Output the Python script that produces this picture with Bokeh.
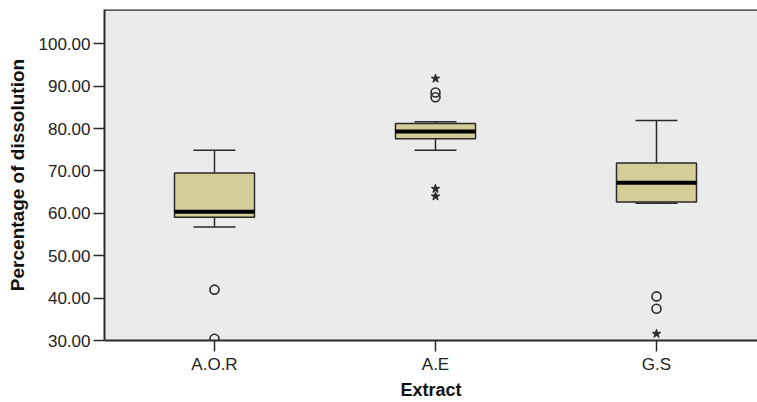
from bokeh.plotting import figure
from bokeh.models import Range1d, FixedTicker, PrintfTickFormatter, Span
from bokeh.embed import file_html
from bokeh.resources import INLINE

categories = ["A.O.R", "A.E", "G.S"]
cat_pos = [1, 2, 3]
q1 = [59.1, 77.6, 62.7]
median = [60.4, 79.3, 67.2]
q3 = [69.5, 81.2, 71.9]
whisker_low = [56.8, 74.9, 62.4]
whisker_high = [74.9, 81.6, 81.9]

circle_cat = [1, 1, 2, 2, 3, 3]
circle_val = [42.0, 30.4, 88.5, 87.4, 40.4, 37.5]
star_cat = [2, 2, 2, 3]
star_val = [91.8, 65.8, 64.0, 31.6]

yticks = [30, 40, 50, 60, 70, 80, 90, 100]

FONT = "Liberation Sans"
LINE = "#2a2a2a"
YTOP = 108.1

p = figure(width=757, height=402, output_backend="svg", toolbar_location=None,
           x_range=Range1d(0.5023, 3.457), y_range=Range1d(30, YTOP),
           min_border_left=104, min_border_right=0, min_border_top=9, min_border_bottom=62)
p.background_fill_color = "#EBEBEB"
p.border_fill_color = "white"
p.outline_line_color = None
p.xgrid.visible = False
p.ygrid.visible = False

bw = 0.362
cw = 0.19
xs = cat_pos

# whiskers
p.segment(x0=xs, y0=q3, x1=xs, y1=whisker_high, line_color=LINE, line_width=1.5)
p.segment(x0=xs, y0=q1, x1=xs, y1=whisker_low, line_color=LINE, line_width=1.5)
p.segment(x0=[x - cw / 2 for x in xs], y0=whisker_high, x1=[x + cw / 2 for x in xs], y1=whisker_high,
          line_color=LINE, line_width=1.5)
p.segment(x0=[x - cw / 2 for x in xs], y0=whisker_low, x1=[x + cw / 2 for x in xs], y1=whisker_low,
          line_color=LINE, line_width=1.5)
# boxes
p.vbar(x=xs, width=bw, top=q3, bottom=q1, fill_color="#D3CE97", line_color=LINE, line_width=1.5)
# medians
p.segment(x0=[x - bw / 2 for x in xs], y0=median, x1=[x + bw / 2 for x in xs], y1=median,
          line_color="black", line_width=4)
# outliers
p.scatter(x=circle_cat, y=circle_val, marker="circle", size=9, fill_color=None,
          line_color=LINE, line_width=1.6)
p.scatter(x=star_cat, y=star_val, marker="star", size=9, fill_color=LINE,
          line_color=LINE, line_width=1)

p.add_layout(Span(location=YTOP, dimension="width", line_color=LINE, line_width=2.5))

# y axis
ya = p.yaxis[0]
ya.ticker = FixedTicker(ticks=yticks)
ya.formatter = PrintfTickFormatter(format="%.2f")
ya.axis_label = "Percentage of dissolution"
ya.axis_label_text_font = FONT
ya.axis_label_text_font_style = "bold"
ya.axis_label_text_font_size = "19px"
ya.axis_label_text_color = "#111111"
ya.axis_label_standoff = 8
ya.major_label_text_font = FONT
ya.major_label_text_font_size = "17px"
ya.major_label_text_color = "#222222"
ya.major_label_standoff = 3
ya.major_tick_out = 11
ya.major_tick_in = 0
ya.minor_tick_out = 0
ya.minor_tick_in = 0
ya.axis_line_color = LINE
ya.axis_line_width = 2
ya.major_tick_line_color = LINE
ya.major_tick_line_width = 1.5

# x axis
xa = p.xaxis[0]
xa.ticker = FixedTicker(ticks=cat_pos)
xa.major_label_overrides = {c: n for c, n in zip(cat_pos, categories)}
xa.axis_label = "Extract"
xa.axis_label_text_font = FONT
xa.axis_label_text_font_style = "bold"
xa.axis_label_text_font_size = "18px"
xa.axis_label_text_color = "#111111"
xa.axis_label_standoff = 3
xa.major_label_text_font = FONT
xa.major_label_text_font_size = "17px"
xa.major_label_text_color = "#222222"
xa.major_label_standoff = 3
xa.major_tick_out = 11
xa.major_tick_in = 0
xa.minor_tick_out = 0
xa.minor_tick_in = 0
xa.axis_line_color = LINE
xa.axis_line_width = 2
xa.major_tick_line_color = LINE
xa.major_tick_line_width = 1.5

open("out.html", "w").write(file_html(p, INLINE))
